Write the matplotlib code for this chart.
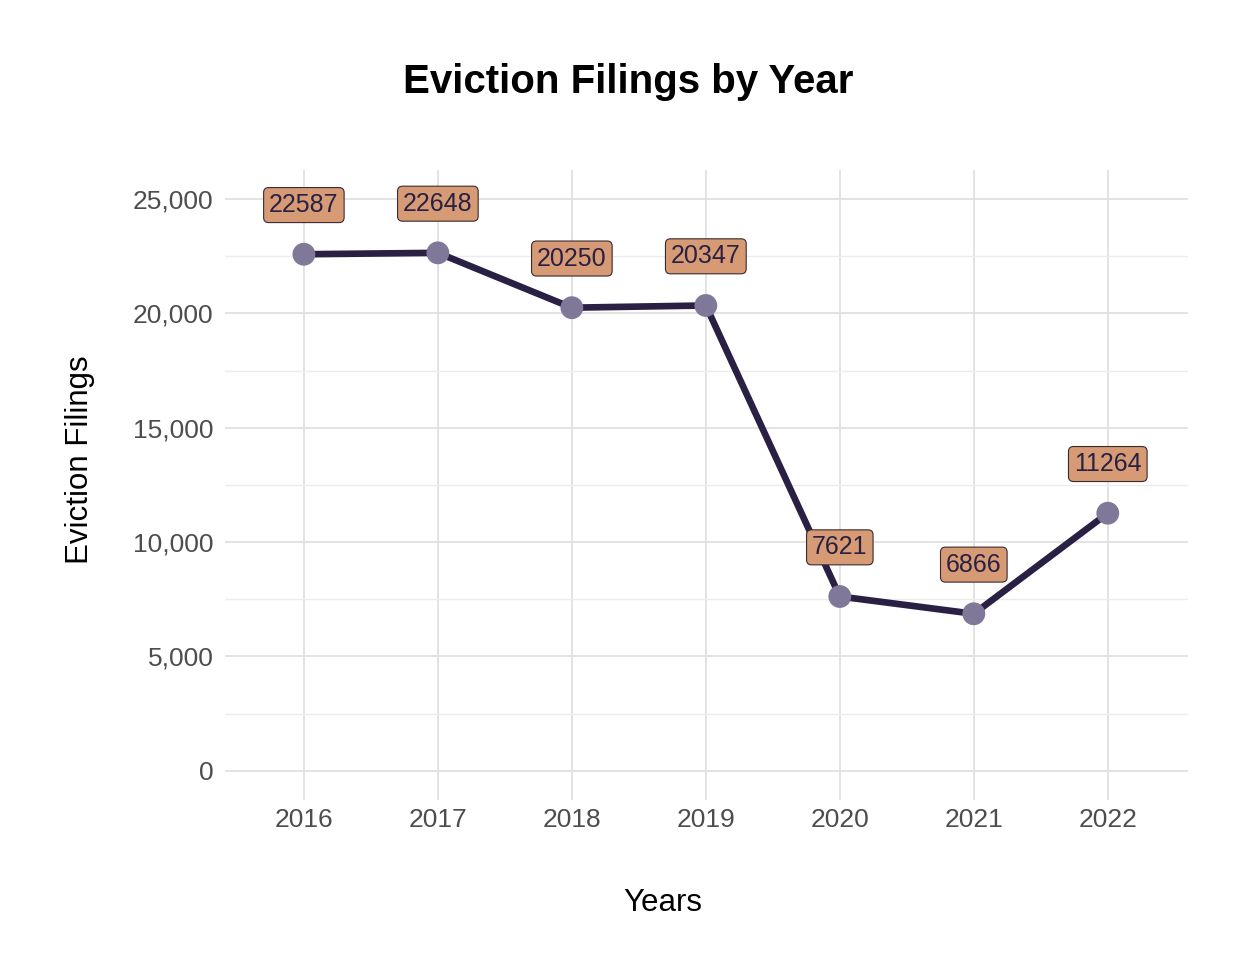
import matplotlib
matplotlib.use("Agg")
import matplotlib.pyplot as plt
from matplotlib.ticker import FuncFormatter, MultipleLocator

plt.rcParams['font.family'] = ['Liberation Sans', 'DejaVu Sans']

years = [2016, 2017, 2018, 2019, 2020, 2021, 2022]
filings = [22587, 22648, 20250, 20347, 7621, 6866, 11264]

line_col = "#2a2044"
point_col = "#7f7898"
label_fill = "#d69b74"

fig = plt.figure(figsize=(12.56, 9.66), dpi=100)
ax = fig.add_axes([0.179, 0.172, 0.767, 0.652])

ax.plot(years, filings, color=line_col, lw=4.8, zorder=3, solid_capstyle='round')
ax.scatter(years, filings, s=270, color=point_col, zorder=4, edgecolors='none')

# labels sit a bit above each point
for x, y in zip(years, filings):
    ax.text(x, y + 2150, str(y), ha='center', va='center', fontsize=18,
            color="#2a2044", zorder=5,
            bbox=dict(boxstyle='round,pad=0.22,rounding_size=0.2',
                      fc=label_fill, ec="#3a2a30", lw=0.8))

ax.set_xlim(2015.41, 2022.6)
ax.set_ylim(-1270, 26270)
ax.set_xticks(years)
ax.yaxis.set_major_locator(MultipleLocator(5000))
ax.yaxis.set_minor_locator(MultipleLocator(2500))
ax.yaxis.set_major_formatter(FuncFormatter(lambda v, p: f"{int(v):,}"))

ax.grid(which='major', color="#e0e0e0", lw=1.3)
ax.grid(which='minor', axis='y', color="#ececec", lw=1.0)
ax.set_axisbelow(True)
for s in ax.spines.values():
    s.set_visible(False)
ax.tick_params(which='both', length=0, labelsize=19, labelcolor="#4d4d4d", pad=8)
ax.tick_params(axis='x', pad=6)

fig.text(663 / 1256, 1 - 903 / 966, "Years", ha='center', va='center', fontsize=22.5)
fig.text(80 / 1256, 1 - 460 / 966, "Eviction Filings", ha='center', va='center',
         fontsize=22.5, rotation=90)
fig.text(628 / 1256, 1 - 82 / 966, "Eviction Filings by Year", ha='center', va='center',
         fontsize=29, fontweight='bold')

fig.savefig("out.png", dpi=100, facecolor='white')
